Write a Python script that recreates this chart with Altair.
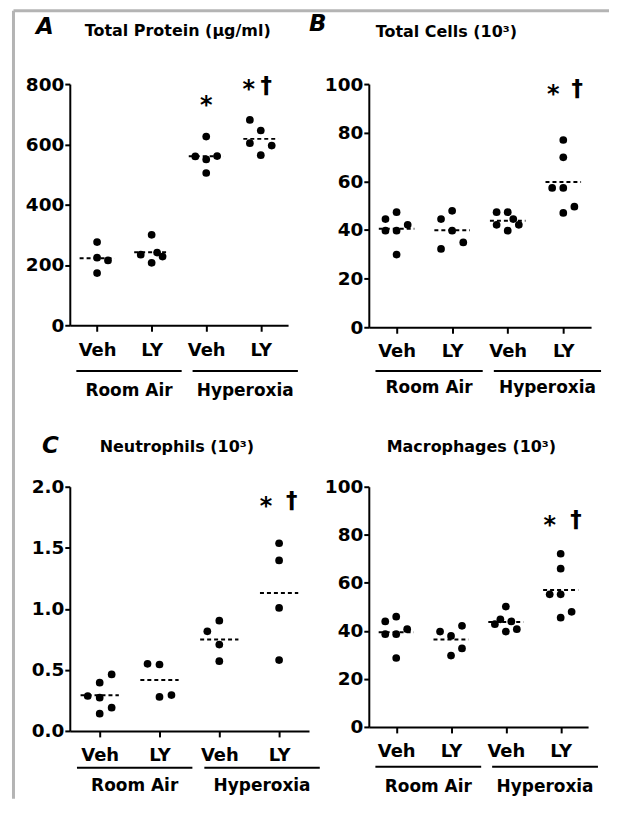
import json
import altair as alt
import pandas as pd

# ---------------- data ----------------
treatments = ["Veh", "LY", "Veh", "LY"]
groups = ["Room Air", "Hyperoxia"]
group_members = [[1, 2], [3, 4]]

# Panel A - Total Protein (µg/ml)
protein_ra_veh = [276, 224, 215, 173]
protein_ra_ly = [300, 234, 241, 228, 207]
protein_hy_veh = [626, 560, 550, 561, 505]
protein_hy_ly = [681, 646, 604, 596, 564]
protein_swarm = [[0, 0, 1, 0], [0, -1, 0.5, 1, 0], [0, -1, 0, 1, 0], [-1, 0, -1, 1, 0]]

# Panel B - Total Cells (10^3)
cells_ra_veh = [44.5, 47.3, 39.7, 39.7, 42.1, 29.9]
cells_ra_ly = [44.5, 47.9, 39.7, 32.2, 34.9]
cells_hy_veh = [47.3, 47.3, 42.1, 44.5, 42.1, 39.7]
cells_hy_ly = [77.0, 69.9, 57.3, 57.3, 47.0, 49.6]
cells_swarm = [[-1, 0, -1, 0, 1, 0], [-1, 0, 0, -1, 1], [-1, 0, -1, 0.5, 1, 0], [0, 0, -1, 0, 0, 1]]

# Panel C - Neutrophils (10^3)
neut_ra_veh = [0.286, 0.395, 0.463, 0.272, 0.19, 0.141]
neut_ra_ly = [0.55, 0.544, 0.278, 0.294]
neut_hy_veh = [0.816, 0.903, 0.707, 0.571]
neut_hy_ly = [1.537, 1.396, 1.007, 0.58]
neut_swarm = [[-1, 0, 1, 0, 1, 0], [-1, 0, 0, 1], [-1, 0, 0, 0], [0, 0, 0, 0]]

# Panel D - Macrophages (10^3)
macro_ra_veh = [43.9, 45.9, 38.6, 38.6, 40.7, 28.7]
macro_ra_ly = [39.7, 37.9, 42.1, 29.7, 32.7]
macro_hy_veh = [42.8, 50.1, 44.8, 43.9, 39.7, 40.7]
macro_hy_ly = [72.1, 65.9, 55.2, 55.2, 45.5, 47.9]
macro_swarm = [[-1, 0, -1, 0, 1, 0], [-1, 0, 1, 0, 1], [-1, 0, -0.5, 0.5, 0, 1], [0, 0, -1, 0, 0, 1]]

# significance marks: (text, category position, value)
protein_marks = [("*", 3.0, 747), ("*", 3.78, 800), ("†", 4.1, 795)]
cells_marks = [("*", 3.82, 98), ("†", 4.25, 98)]
neut_marks = [("*", 3.78, 1.88), ("†", 4.21, 1.88)]
macro_marks = [("*", 3.8, 86), ("†", 4.28, 86)]

FONT = "DejaVu Sans"


def panel(series, swarm, ymax, yticks, yfmt, w, h, title, title_pos,
          letter, letter_pos, marks, label_dy, line_dy, text_dy, border=False):
    rows = []
    for i, (vals, cols) in enumerate(zip(series, swarm), start=1):
        for v, c in zip(vals, cols):
            rows.append({"idx": i, "value": v, "col": c})
    df = pd.DataFrame(rows)

    xscale = alt.Scale(domain=[0.5, 4.5], nice=False, zero=False)
    yscale = alt.Scale(domain=[0, ymax], nice=False, zero=True)
    xaxis = alt.Axis(values=[1, 2, 3, 4], labelExpr=json.dumps(treatments) + "[datum.value - 1]",
                     title=None, tickSize=6, labelPadding=label_dy, labelFontSize=18,
                     labelFlush=False, labelAngle=0)
    yaxis = alt.Axis(values=yticks, format=yfmt, title=None, tickSize=5, labelPadding=1,
                     labelFontSize=18.5)

    base = alt.Chart(df)
    pts = base.transform_calculate(x="datum.idx + datum.col * 0.2").mark_circle(
        size=60, color="black", opacity=1
    ).encode(
        x=alt.X("x:Q", scale=xscale, axis=xaxis),
        y=alt.Y("value:Q", scale=yscale, axis=yaxis),
    )
    means = base.transform_aggregate(m="mean(value)", groupby=["idx"]).transform_calculate(
        x="datum.idx - 0.32", x2="datum.idx + 0.32"
    ).mark_rule(color="black", strokeWidth=2, strokeDash=[4, 3]).encode(
        x=alt.X("x:Q", scale=xscale, axis=xaxis),
        x2="x2:Q",
        y=alt.Y("m:Q", scale=yscale, axis=yaxis),
    )

    mdf = pd.DataFrame([{"t": t, "x": x, "value": v} for t, x, v in marks])
    star = alt.Chart(mdf).transform_filter("datum.t == '*'").mark_text(
        font=FONT, fontWeight="bold", fontSize=24, color="black", baseline="middle", dy=6
    ).encode(
        x=alt.X("x:Q", scale=xscale, axis=xaxis),
        y=alt.Y("value:Q", scale=yscale, axis=yaxis),
        text="t:N",
    )
    dag = alt.Chart(mdf).transform_filter("datum.t != '*'").mark_text(
        font=FONT, fontWeight="bold", fontSize=23, color="black", baseline="middle"
    ).encode(
        x=alt.X("x:Q", scale=xscale, axis=xaxis),
        y=alt.Y("value:Q", scale=yscale, axis=yaxis),
        text="t:N",
    )

    grows = []
    for gi, (g, mem) in enumerate(zip(groups, group_members)):
        lo = mem[0] - 0.38 + 0.13 * gi
        hi = mem[-1] + 0.55 + 0.13 * gi
        grows.append({"g": g, "lo": lo, "hi": hi, "mid": (lo + hi) / 2})
    gdf = pd.DataFrame(grows)
    glines = alt.Chart(gdf).mark_rule(color="black", strokeWidth=2).encode(
        x=alt.X("lo:Q", scale=xscale, axis=xaxis), x2="hi:Q", y=alt.value(h + line_dy)
    )
    gtext = alt.Chart(gdf).mark_text(font=FONT, fontWeight="bold", fontSize=17, color="black",
                                     baseline="middle").encode(
        x=alt.X("mid:Q", scale=xscale, axis=xaxis), y=alt.value(h + text_dy), text="g:N"
    )

    ttl = alt.Chart(pd.DataFrame({"t": [title]})).mark_text(
        font=FONT, fontWeight="bold", fontSize=16, color="black", align="left", baseline="middle"
    ).encode(x=alt.value(title_pos[0]), y=alt.value(title_pos[1]), text="t:N")

    layers = [pts, means, star, dag, glines, gtext, ttl]
    if letter:
        let = alt.Chart(pd.DataFrame({"t": [letter]})).mark_text(
            font=FONT, fontWeight="bold", fontStyle="italic", fontSize=23, color="black",
            align="left", baseline="middle"
        ).encode(x=alt.value(letter_pos[0]), y=alt.value(letter_pos[1]), text="t:N")
        layers.append(let)
    if border:
        one = pd.DataFrame({"a": [0]})
        top = alt.Chart(one).mark_rule(color="#b4b4b4", strokeWidth=3).encode(
            x=alt.value(-56.5), x2=alt.value(541), y=alt.value(-73.5))
        left = alt.Chart(one).mark_rule(color="#b4b4b4", strokeWidth=3).encode(
            x=alt.value(-56.5), y=alt.value(-73.5), y2=alt.value(717))
        layers = [top, left] + layers
    return alt.layer(*layers).properties(width=w, height=h)


A = panel([protein_ra_veh, protein_ra_ly, protein_hy_veh, protein_hy_ly], protein_swarm,
          800, [0, 200, 400, 600, 800], "d", 219, 242, "Total Protein (µg/ml)", (15, -53),
          "A", (-34, -57), protein_marks, 10, 46, 66, border=True)
B = panel([cells_ra_veh, cells_ra_ly, cells_hy_veh, cells_hy_ly], cells_swarm,
          100, [0, 20, 40, 60, 80, 100], "d", 223, 244, "Total Cells (10³)", (7, -52),
          "B", (-60, -60), cells_marks, 9, 44, 61)
C = panel([neut_ra_veh, neut_ra_ly, neut_hy_veh, neut_hy_ly], neut_swarm,
          2.0, [0, 0.5, 1.0, 1.5, 2.0], ".1f", 240, 245, "Neutrophils (10³)", (30, -40),
          "C", (-28, -41), neut_marks, 10, 37, 55)
D = panel([macro_ra_veh, macro_ra_ly, macro_hy_veh, macro_hy_ly], macro_swarm,
          100, [0, 20, 40, 60, 80, 100], "d", 220, 241, "Macrophages (10³)", (18, -40),
          None, None, macro_marks, 10, 40, 60)

chart = alt.concat(A, B, C, D, columns=2, spacing={"row": 160, "column": 60}, bounds="flush").properties(
    padding={"left": 4, "top": 0, "right": 0, "bottom": 0}
).configure_view(stroke=None).configure_axis(
    grid=False, domainColor="black", domainWidth=2, tickColor="black", tickWidth=2,
    labelColor="black", labelFont=FONT, labelFontWeight="bold"
)

chart.save("out.html", embed_options={"renderer": "svg", "actions": False})
